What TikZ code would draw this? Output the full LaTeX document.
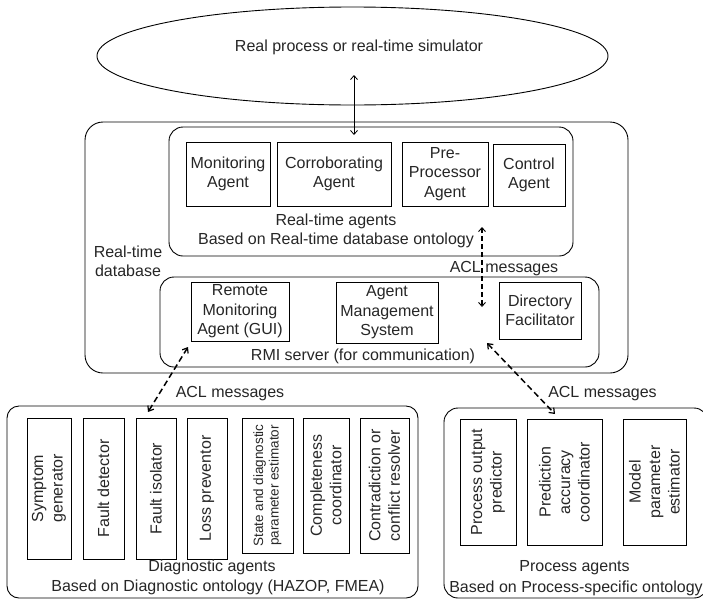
\documentclass[tikz,border=0pt]{standalone}
\usepackage{fontspec}
\setmainfont{Liberation Sans}
\usetikzlibrary{arrows.meta,shapes.geometric}
\begin{document}
\begin{tikzpicture}[x=1pt,y=-1pt,
  every node/.style={font=\fontsize{16}{19.5}\selectfont, text=black!85},
  agent/.style={draw, line width=0.9pt, inner sep=0pt, align=center},
  vagent/.style={agent, rotate=90},
  group/.style={draw, line width=0.9pt, rounded corners=14pt, inner sep=0pt},
  lbl/.style={inner sep=0pt, align=center},
  solidarrow/.style={line width=0.9pt, {Straight Barb[length=4pt,width=7pt,line width=0.8pt]}-{Straight Barb[length=4pt,width=7pt,line width=0.8pt]}},
  acl/.style={line width=1.5pt, dash pattern=on 6pt off 3.5pt, {Straight Barb[length=4.5pt,width=7pt,line width=1.2pt]}-{Straight Barb[length=4.5pt,width=7pt,line width=1.2pt]}},
  aclv/.style={line width=1.1pt, dash pattern=on 5pt off 3pt, {Straight Barb[length=4pt,width=7pt,line width=0.9pt]}-{Straight Barb[length=4pt,width=7pt,line width=0.9pt]}},
]
\useasboundingbox (0,0) rectangle (703,600);
\clip (0,0) rectangle (703,600);

% process / simulator
\node[draw, ellipse, line width=0.9pt, minimum width=511, minimum height=98, inner sep=0pt] (proc) at (352.5,56) {};
\node[lbl] (proctxt) at (359,47) {Real process or real-time simulator};

% real-time database group
\node[group, rounded corners=18pt, minimum width=543, minimum height=251] (rtdb) at (356.5,247.5) {};
\node[lbl] (rtdbtxt) at (128,261.5) {Real-time\\database};

% real-time agents
\node[group, minimum width=404, minimum height=129] (rta) at (371,191.5) {};
\node[agent, minimum width=84, minimum height=64] (mon) at (228,174) {Monitoring\\Agent};
\node[agent, minimum width=114, minimum height=64] (cor) at (334,174) {Corroborating\\Agent};
\node[agent, minimum width=86, minimum height=64] (pre) at (445,174) {Pre-\\Processor\\Agent};
\node[agent, minimum width=72, minimum height=62] (ctl) at (529,175) {Control\\Agent};
\node[lbl] (rtatxt) at (336,231) {Real-time agents\\Based on Real-time database ontology};

% RMI server
\node[group, minimum width=439, minimum height=90] (rmi) at (379.5,322) {};
\node[agent, minimum width=98, minimum height=59] (rem) at (240,311.5) {Remote\\Monitoring\\Agent (GUI)};
\node[agent, minimum width=102, minimum height=61] (ams) at (387,312.5) {Agent\\Management\\System};
\node[agent, minimum width=82, minimum height=57] (df) at (540,310.5) {Directory\\Facilitator};
\node[lbl] (rmitxt) at (363,356) {RMI server (for communication)};

% diagnostic agents
\node[group, rounded corners=12pt, minimum width=411, minimum height=192] (diag) at (212.5,502) {};
\node[vagent, minimum width=141, minimum height=44] (sym) at (49,488.5) {Symptom\\generator};
\node[vagent, minimum width=141, minimum height=41] (fd) at (103.5,488.5) {Fault detector};
\node[vagent, minimum width=141, minimum height=40] (fi) at (156,488.5) {Fault isolator};
\node[vagent, minimum width=141, minimum height=40] (lp) at (207,488.5) {Loss preventor};
\node[vagent, minimum width=135, minimum height=51, font=\fontsize{13.5}{15.5}\selectfont] (sde) at (267.5,485.5) {State and diagnostic\\parameter estimator};
\node[vagent, minimum width=135, minimum height=46] (cc) at (326,485.5) {Completeness\\coordinator};
\node[vagent, minimum width=135, minimum height=49] (cr) at (384.5,485.5) {Contradiction or\\conflict resolver};
\node[lbl] (diagtxt1) at (212,567) {Diagnostic agents};
\node[lbl] (diagtxt2) at (218,587.5) {Based on Diagnostic ontology (HAZOP, FMEA)};

% process agents
\node[group, minimum width=264, minimum height=190] (pa) at (576,503) {};
\node[vagent, minimum width=126, minimum height=56] (pop) at (488,482) {Process output\\predictor};
\node[vagent, minimum width=126, minimum height=75] (pac) at (564.5,482) {Prediction\\accuracy\\coordinator};
\node[vagent, minimum width=126, minimum height=63] (mpe) at (654.5,482) {Model\\parameter\\estimator};
\node[lbl] (patxt1) at (574.5,568) {Process agents};
\node[lbl] (patxt2) at (576,588.5) {Based on Process-specific ontology};

% connector end points
\coordinate (pA) at (354,75);
\coordinate (pB) at (354,135);
\coordinate (vA) at (482,227);
\coordinate (vB) at (482,307);
\coordinate (dA) at (188,347);
\coordinate (dB) at (148,412);
\coordinate (eA) at (487,343);
\coordinate (eB) at (555,414);

\draw[solidarrow] (pA) -- (pB);
\draw[aclv] (vA) -- (vB);
\draw[acl] (dA) -- (dB);
\draw[acl] (eA) -- (eB);

% ACL labels
\node[lbl] (acl1) at (504,269) {ACL messages};
\node[lbl] (acl2) at (230,394) {ACL messages};
\node[lbl] (acl3) at (602.5,394) {ACL messages};
\end{tikzpicture}
\end{document}
